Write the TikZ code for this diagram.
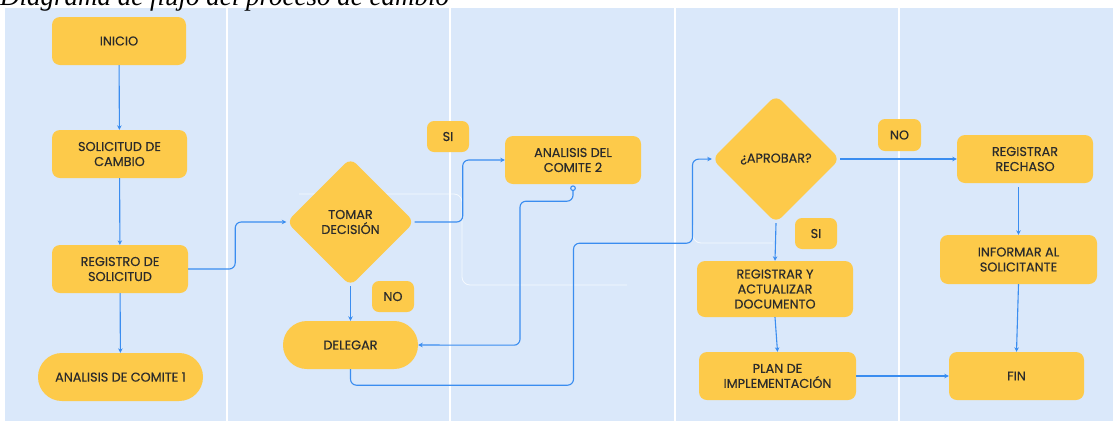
\documentclass[tikz,border=0pt]{standalone}
\usepackage{fontspec}
\setmainfont{Poppins}
\newfontfamily\cardfont{Poppins}[FakeBold=0.35]
\newfontfamily\titlefont{Liberation Serif}
\usetikzlibrary{shapes.geometric,arrows.meta,calc}

\definecolor{lane}{HTML}{DAE8FA}
\definecolor{card}{HTML}{FDCA4A}
\definecolor{flowblue}{HTML}{3A8DF0}
\definecolor{ink}{HTML}{2B2B2B}

\tikzset{
  base/.style={fill=card, text=ink, inner sep=0pt, align=center,
    font=\cardfont\fontsize{12.8}{15}\selectfont},
  stepbox/.style={base, rectangle, rounded corners=8pt},
  pill/.style={base, rectangle, rounded corners=23.9pt,
    minimum width=#1, minimum height=48pt},
  choice/.style={base, diamond, rounded corners=8pt,
    minimum width=128pt, minimum height=128pt},
  tag/.style={stepbox, rounded corners=7pt, minimum width=42pt, minimum height=31pt},
  flow/.style={draw=flowblue, line width=1.1pt, rounded corners=6pt,
    -{Stealth[length=4.5pt,width=4.5pt]}},
  lanesep/.style={draw=white, line width=1.3pt},
  ghost/.style={draw=white, opacity=0.75, line width=0.8pt, rounded corners=8pt}
}

\begin{document}
\begin{tikzpicture}[x=1pt,y=-1pt]
\useasboundingbox (0,0) rectangle (1113,421);

% lane background and separators
\fill[lane] (5,8) rectangle (1113,421);
\foreach \sx in {227,450,675,899}
  \draw[lanesep] (\sx,8) -- (\sx,421);

% heading, partly above the page edge
\node[anchor=base west, inner sep=0pt,
  font=\titlefont\fontsize{27}{30}\selectfont\itshape] (title) at (0,5)
  {Diagrama de flujo del proceso de cambio};

% faint guide outlines
\draw[ghost] (299,194) -- (462,194) -- (462,285) -- (627,285);
\draw[ghost] (693,225) -- (693,243) -- (773,243);

% first lane
\node[stepbox, minimum width=134pt, minimum height=48pt] (inicio) at (119,41) {INICIO};
\node[stepbox, minimum width=135pt, minimum height=48pt] (sol) at (119.5,154) {SOLICITUD DE\\CAMBIO};
\node[stepbox, minimum width=136pt, minimum height=48pt] (reg) at (120,269) {REGISTRO DE\\SOLICITUD};
\node[pill=165pt] (an1) at (120.5,377) {ANALISIS DE COMITE 1};

% second and third lanes
\node[choice] (tomar) at (350.5,222) {TOMAR\\DECISIÓN};
\node[tag] (si1) at (448,136.5) {SI};
\node[stepbox, minimum width=136pt, minimum height=48pt] (an2) at (573,160) {ANALISIS DEL\\COMITE 2};
\node[tag] (no1) at (393,296.5) {NO};
\node[pill=135pt] (deleg) at (350.5,345) {DELEGAR};

% fourth lane
\node[choice] (aprob) at (776,159) {¿APROBAR?};
\node[tag, minimum width=43pt, minimum height=32pt] (no2) at (899.5,135) {NO};
\node[tag] (si2) at (816,233.5) {SI};
\node[stepbox, minimum width=156pt, minimum height=56pt] (regact) at (775,289) {REGISTRAR Y\\ACTUALIZAR\\DOCUMENTO};
\node[stepbox, minimum width=157pt, minimum height=48pt] (plan) at (777.5,376) {PLAN DE\\IMPLEMENTACIÓN};

% fifth lane
\node[stepbox, minimum width=136pt, minimum height=48pt] (rech) at (1025,159) {REGISTRAR\\RECHASO};
\node[stepbox, minimum width=157pt, minimum height=49pt] (inf) at (1018.5,259.5) {INFORMAR AL\\SOLICITANTE};
\node[stepbox, minimum width=135pt, minimum height=48pt] (fin) at (1016.5,376) {FIN};

% connectors
\draw[flow] (inicio) -- (sol);
\draw[flow] (sol) -- (reg);
\draw[flow] (reg) -- (an1);
\draw[flow] (reg.east) -- ++(47,0) |- (tomar.west);
\draw[flow] (tomar.east) -- ++(48,0) |- (an2.west);
\draw[flow] (tomar.south) -- (deleg.north);
\coordinate (hook) at ($(an2.south)+(0,4)$);
\draw[flow] (hook) -- ++(0,13) -| ++(-53,144) -- (deleg.east);
\draw[draw=flowblue, line width=1.1pt, fill=lane] (hook) circle (2.3pt);
\draw[flow] (deleg.south) -- ++(0,16) -| ++(223,-142) -| ++(119,-84) -- (aprob.west);
\draw[flow] (aprob.east) -- (rech.west);
\draw[flow] (aprob.south) -- (regact.north);
\draw[flow] (regact.south) -- (plan.north);
\draw[flow] ($(rech.south -| inf.north)+(0,4)$) -- (inf.north);
\draw[flow] (inf.south) -- (fin.north);
\draw[flow] (plan.east) -- (fin.west);
\end{tikzpicture}
\end{document}
